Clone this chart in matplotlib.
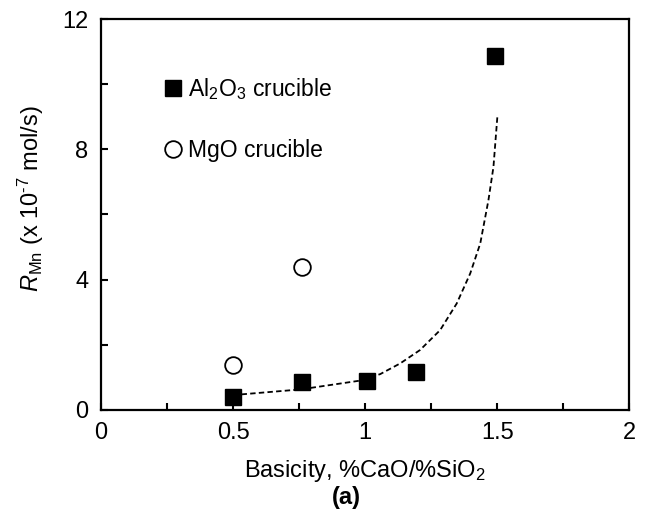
import matplotlib
matplotlib.use("Agg")
import matplotlib.pyplot as plt
from matplotlib.ticker import MultipleLocator

plt.rcParams['font.family'] = ['Liberation Sans', 'DejaVu Sans']
plt.rcParams['mathtext.fontset'] = 'custom'
plt.rcParams['mathtext.rm'] = 'Liberation Sans'
plt.rcParams['mathtext.it'] = 'Liberation Sans:italic'
plt.rcParams['mathtext.bf'] = 'Liberation Sans:bold'

# Data
al2o3_x = [0.50, 0.76, 1.006, 1.193, 1.49]
al2o3_y = [0.41, 0.87, 0.90, 1.16, 10.86]
mgo_x = [0.50, 0.76]
mgo_y = [1.38, 4.40]

fit_x = [0.50, 0.533, 0.754, 0.98, 1.057, 1.133, 1.208, 1.284, 1.347, 1.398, 1.436, 1.467, 1.486, 1.501]
fit_y = [0.42, 0.48, 0.63, 0.90, 1.10, 1.43, 1.84, 2.45, 3.27, 4.19, 5.11, 6.44, 7.46, 9.02]

fig = plt.figure(figsize=(6.52, 5.22), dpi=100)
ax = fig.add_axes([0.155, 0.2146, 0.81, 0.749])

ax.plot(fit_x, fit_y, color='black', lw=1.3, linestyle=(0, (3.0, 1.8)), zorder=2)
ax.plot(al2o3_x, al2o3_y, linestyle='none', marker='s', markersize=12,
        color='black', label=r'Al$_2$O$_3$ crucible', zorder=3)
ax.plot(mgo_x, mgo_y, linestyle='none', marker='o', markersize=12,
        markerfacecolor='white', markeredgecolor='black', markeredgewidth=1.3,
        label='MgO crucible', zorder=3)

ax.set_xlim(0, 2)
ax.set_ylim(0, 12)
ax.xaxis.set_major_locator(MultipleLocator(0.5))
ax.xaxis.set_minor_locator(MultipleLocator(0.25))
ax.yaxis.set_major_locator(MultipleLocator(4))
ax.yaxis.set_minor_locator(MultipleLocator(2))
ax.set_xticks([0, 0.5, 1, 1.5, 2])
ax.set_xticklabels(['0', '0.5', '1', '1.5', '2'])
ax.tick_params(which='both', direction='in', length=5, width=1.5,
               top=False, right=False, labelsize=17, pad=9)

for s in ax.spines.values():
    s.set_linewidth(1.6)

ax.set_xlabel(r'Basicity, %CaO/%SiO$_2$', fontsize=17, labelpad=10)
ax.set_ylabel(r'$\mathit{R}_{\mathrm{Mn}}$ (x 10$^{\text{-7}}$ mol/s)', fontsize=17, labelpad=8)
ax.yaxis.set_label_coords(-0.104, 0.54)

fig.text(0.532, 0.046, '(a)', fontsize=17, fontweight='bold', ha='center', va='center')

leg = ax.legend(loc='upper left', bbox_to_anchor=(0.115, 0.855), frameon=False,
                fontsize=16.5, handletextpad=0.13, labelspacing=1.62,
                handlelength=1.0, borderaxespad=0, borderpad=0)

fig.savefig('out.png', dpi=100)
